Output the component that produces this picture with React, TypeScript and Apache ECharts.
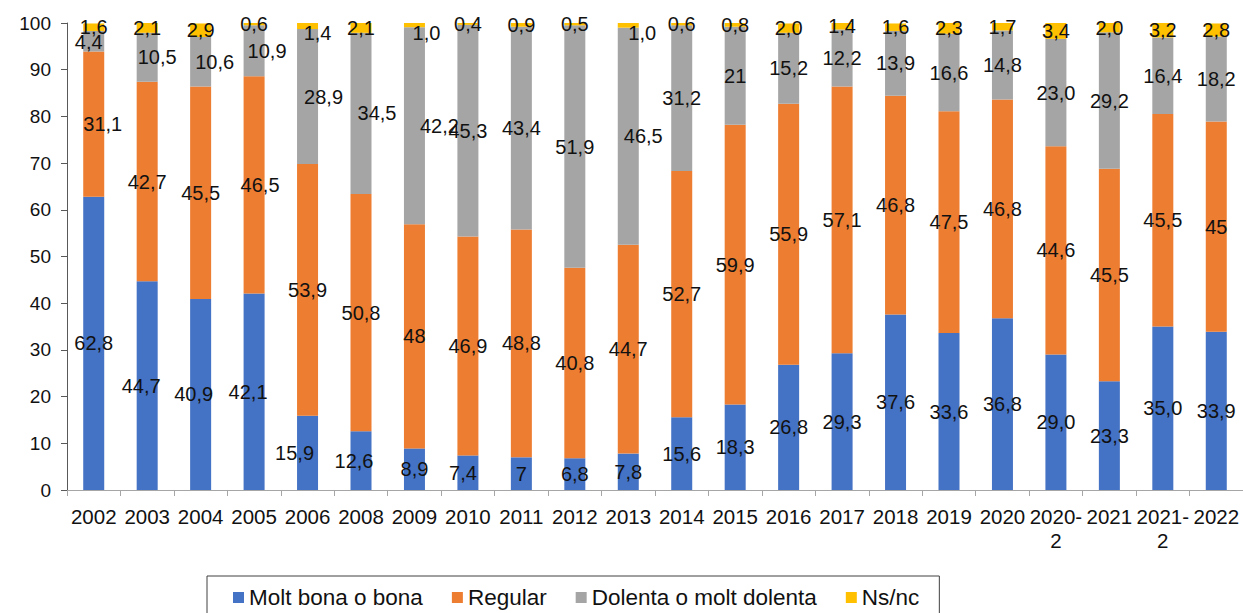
import React, { useEffect, useRef } from "react";
import * as echarts from "echarts";

const categories = [
  "2002", "2003", "2004", "2005", "2006", "2008", "2009", "2010", "2011", "2012", "2013",
  "2014", "2015", "2016", "2017", "2018", "2019", "2020", "2020-2", "2021", "2021-2", "2022",
];

const seriesNames = ["Molt bona o bona", "Regular", "Dolenta o molt dolenta", "Ns/nc"];

// values exactly as printed in the source (decimal comma)
const moltBona = ["62,8", "44,7", "40,9", "42,1", "15,9", "12,6", "8,9", "7,4", "7", "6,8", "7,8",
  "15,6", "18,3", "26,8", "29,3", "37,6", "33,6", "36,8", "29,0", "23,3", "35,0", "33,9"];
const regular = ["31,1", "42,7", "45,5", "46,5", "53,9", "50,8", "48", "46,9", "48,8", "40,8", "44,7",
  "52,7", "59,9", "55,9", "57,1", "46,8", "47,5", "46,8", "44,6", "45,5", "45,5", "45"];
const dolenta = ["4,4", "10,5", "10,6", "10,9", "28,9", "34,5", "42,2", "45,3", "43,4", "51,9", "46,5",
  "31,2", "21", "15,2", "12,2", "13,9", "16,6", "14,8", "23,0", "29,2", "16,4", "18,2"];
const nsnc = ["1,6", "2,1", "2,9", "0,6", "1,4", "2,1", "1,0", "0,4", "0,9", "0,5", "1,0",
  "0,6", "0,8", "2,0", "1,4", "1,6", "2,3", "1,7", "3,4", "2,0", "3,2", "2,8"];

const yTicks = { min: 0, max: 100, interval: 10 };

const colors = ["#4472C4", "#ED7D31", "#A5A5A5", "#FFC000"];

// label nudges (styling only) per series, by category index
const labelNudges: Record<number, [number, number]>[] = [
  { 1: [-6, 0], 2: [-7, 0], 3: [-6, 0], 4: [-13, 0], 5: [-7, 0], 7: [-5, 0] },
  { 0: [9, 0], 3: [6, 0] },
  { 0: [-5, 1], 1: [10, 0], 2: [14, 0], 3: [13, 0], 4: [16, 0], 5: [16, 0], 6: [25, 0], 10: [15, 0] },
  { 4: [10, 7], 6: [12, 8], 10: [14, 8] },
];

const toNum = (s: string) => parseFloat(s.replace(",", "."));

const FONT = "'Liberation Sans', Arial, sans-serif";

export default function App() {
  const ref = useRef<HTMLDivElement>(null);

  useEffect(() => {
    if (!ref.current) return;
    const chart = echarts.init(ref.current, null, { renderer: "svg" });
    const allLabels = [moltBona, regular, dolenta, nsnc];

    const series = allLabels.map((arr, si) => ({
      name: seriesNames[si],
      type: "bar",
      stack: "total",
      barWidth: 21,
      itemStyle: { color: colors[si] },
      label: {
        show: true,
        position: "inside",
        color: "#111",
        fontSize: 20,
        fontFamily: FONT,
        textBorderWidth: 0,
        formatter: (p: any) => arr[p.dataIndex],
      },
      data: arr.map((s, i) => {
        const n = labelNudges[si][i];
        const item: any = { value: toNum(s) };
        if (n) item.label = { offset: n };
        return item;
      }),
    }));

    chart.setOption({
      animation: false,
      textStyle: { fontFamily: FONT },
      grid: { left: 67, right: 0, top: 23, bottom: 123, containLabel: false },
      legend: {
        left: 207,
        top: 576,
        padding: [10, 20, 10, 26],
        borderColor: "#404040",
        borderWidth: 1,
        itemGap: 29,
        itemWidth: 11,
        itemHeight: 11,
        icon: "rect",
        textStyle: { fontSize: 22.5, color: "#111", fontFamily: FONT },
        data: seriesNames,
      },
      xAxis: {
        type: "category",
        data: categories,
        axisLine: { lineStyle: { color: "#A6A6A6", width: 1 } },
        axisTick: { show: true, length: 6, lineStyle: { color: "#A6A6A6" } },
        axisLabel: {
          color: "#111",
          fontSize: 20.5,
          lineHeight: 24,
          margin: 14,
          interval: 0,
          fontFamily: FONT,
          formatter: (v: string) => v.replace("-", "-\n"),
        },
      },
      yAxis: {
        type: "value",
        min: yTicks.min,
        max: yTicks.max,
        interval: yTicks.interval,
        splitLine: { show: false },
        axisLine: { show: true, lineStyle: { color: "#595959", width: 1 } },
        axisTick: { show: true, length: 6, lineStyle: { color: "#595959" } },
        axisLabel: { color: "#111", fontSize: 19, margin: 16, fontFamily: FONT },
      },
      series,
    });

    return () => chart.dispose();
  }, []);

  return (
    <div
      ref={ref}
      style={{ position: "fixed", left: 0, top: 0, width: 1243, height: 613, background: "#fff" }}
    />
  );
}
